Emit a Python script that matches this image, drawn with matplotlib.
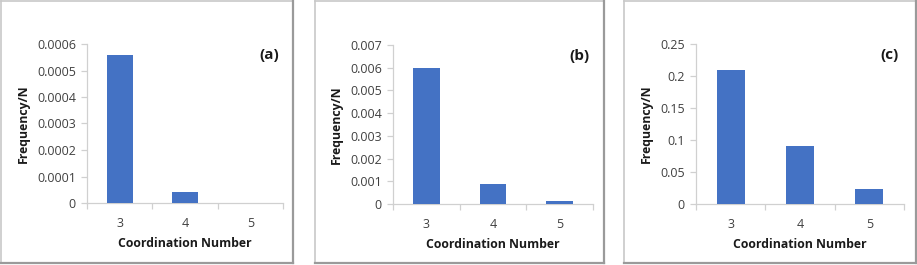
import matplotlib
matplotlib.use("Agg")
import matplotlib.pyplot as plt
from matplotlib.lines import Line2D

plt.rcParams['font.family'] = ['Open Sans', 'DejaVu Sans']

categories = ["3", "4", "5"]
values_a = [0.00056, 0.00004, 0.0]
values_b = [0.006, 0.0009, 0.00015]
values_c = [0.21, 0.09, 0.024]
panel_labels = ["(a)", "(b)", "(c)"]
ylims = [0.0006, 0.007, 0.25]
ysteps = [0.0001, 0.001, 0.05]
ytick_labels = [
    ["0", "0.0001", "0.0002", "0.0003", "0.0004", "0.0005", "0.0006"],
    ["0", "0.001", "0.002", "0.003", "0.004", "0.005", "0.006", "0.007"],
    ["0", "0.05", "0.1", "0.15", "0.2", "0.25"],
]
series = [values_a, values_b, values_c]

W, H = 917, 265
fig = plt.figure(figsize=(W / 100, H / 100), dpi=100)

def fx(px):
    return px / W

def fy(py):
    return 1 - py / H

# panel frames (left, top, right, bottom) in pixels
frames = [(1, 1, 293, 263), (315, 1, 604, 263), (624, 1, 916, 263)]
for (l, t, r, b) in frames:
    fig.add_artist(Line2D([fx(l), fx(r)], [fy(t), fy(t)], color="#C8C8C8", lw=1.2, transform=fig.transFigure))
    fig.add_artist(Line2D([fx(l), fx(l)], [fy(t), fy(b)], color="#C8C8C8", lw=1.2, transform=fig.transFigure))
    fig.add_artist(Line2D([fx(r), fx(r)], [fy(t), fy(b)], color="#9A9A9A", lw=1.6, transform=fig.transFigure))
    fig.add_artist(Line2D([fx(l), fx(r)], [fy(b), fy(b)], color="#9A9A9A", lw=1.6, transform=fig.transFigure))

# axes boxes (left, top, right, bottom) in pixels
axes_px = [(87, 44, 283, 203), (393, 45, 593, 204), (696, 44, 904, 204)]

for i, (l, t, r, b) in enumerate(axes_px):
    ax = fig.add_axes([fx(l), fy(b), fx(r) - fx(l), fy(t) - fy(b)])
    x = list(range(len(categories)))
    ax.bar(x, series[i], width=0.4, color="#4472C4", zorder=3)
    ax.set_xlim(-0.5, len(categories) - 0.5)
    ax.set_ylim(0, ylims[i])
    n = len(ytick_labels[i])
    ax.set_yticks([k * ysteps[i] for k in range(n)])
    ax.set_yticklabels(ytick_labels[i])
    ax.set_xticks(x)
    ax.set_xticklabels(categories)
    ax.set_xticks([k - 0.5 for k in range(len(categories) + 1)], minor=True)
    for s in ["top", "right"]:
        ax.spines[s].set_visible(False)
    for s in ["left", "bottom"]:
        ax.spines[s].set_color("#D0D0D0")
        ax.spines[s].set_linewidth(0.9)
    ax.tick_params(axis="y", length=4, width=0.9, color="#D0D0D0", labelsize=9, labelcolor="#404040", pad=4)
    ax.tick_params(axis="x", which="major", length=0, labelsize=9, labelcolor="#404040", pad=10)
    ax.tick_params(axis="x", which="minor", length=4, width=0.9, color="#D0D0D0")
    ax.set_ylabel("Frequency/N", fontsize=8.8, fontweight="bold", color="#1a1a1a", labelpad=5)
    ax.set_xlabel("Coordination Number", fontsize=8.8, fontweight="bold", color="#1a1a1a", labelpad=5)
    ax.text(0.93, 0.93, panel_labels[i], transform=ax.transAxes, ha="center", va="center",
            fontsize=11, fontweight="bold", color="#1a1a1a")

fig.savefig("out.png", dpi=100)
